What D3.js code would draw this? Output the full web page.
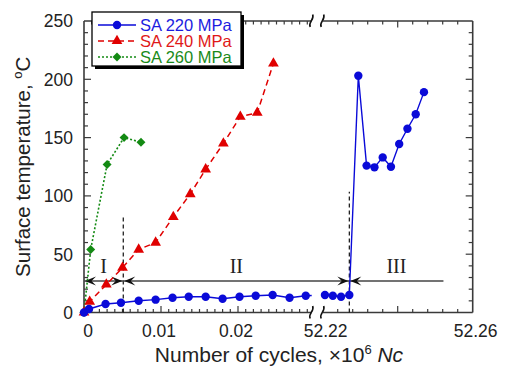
<!DOCTYPE html>
<html>
<head>
<meta charset="utf-8">
<script src="https://cdn.jsdelivr.net/npm/d3@7"></script>
<style>
  body { margin: 0; background: #fff; }
  text { font-family: "Liberation Sans", Arial, Helvetica, sans-serif; }
</style>
</head>
<body>
<svg id="chart" width="506" height="368"></svg>
<script>
// cycles in units of 10^6, temperatures in degC
var sa220Cycles = [0, 0.00065, 0.0028, 0.0048, 0.0071, 0.0093, 0.0115, 0.0136, 0.0158, 0.018, 0.0202, 0.0223, 0.0245, 0.0267, 0.0288,
                   52.2206, 52.2227, 52.2249, 52.2271, 52.2295, 52.2317, 52.2338, 52.236, 52.2382, 52.2404, 52.2426, 52.2448, 52.247]
var sa220Temp = [0, 3, 7.3, 8.4, 10.1, 11, 12.7, 13.5, 13.5, 11.8, 13.5, 14.4, 15, 12.7, 14.4,
                 15, 14.4, 13.5, 15, 203, 126, 124.5, 133, 125, 144.5, 157.6, 170, 189]
var sa240Cycles = [0, 0.00074, 0.0029, 0.005, 0.0071, 0.0093, 0.0116, 0.0138, 0.0158, 0.0181, 0.0203, 0.0225, 0.0246]
var sa240Temp = [0, 9.3, 24, 38.4, 54, 60, 82, 101.6, 122.8, 145, 168, 171.3, 213.6]
var sa260Cycles = [0, 0.00087, 0.003, 0.0052, 0.0074]
var sa260Temp = [0, 54, 127, 150, 146]

var seriesNames = ["SA 220 MPa", "SA 240 MPa", "SA 260 MPa"]
var yTicks = [0, 50, 100, 150, 200, 250]
var xTicksLeft = [0, 0.01, 0.02]
var xTicksRight = [52.22, 52.26]
// stage boundaries (cycles) and names
var stageBounds = [0, 0.0051, 52.2271, 52.2522]
var stageNames = ["I", "II", "III"]
var stageTops = [82, 103.6]   // height of the dashed separators, degC
var stageArrowTemp = 27

var svg = d3.select("#chart")

var pLeft = 84, pRight = 472.7, pTop = 21, pBottom = 312.5
var breakA = 311.7, breakB = 322.7

var y = d3.scaleLinear().domain([0, 250]).range([pBottom, pTop])
var xL = d3.scaleLinear().domain([0, 0.02]).range([pLeft, 238])
var xR = d3.scaleLinear().domain([52.22, 52.26]).range([breakB, pRight])
function xPos(v) { return v < 1 ? xL(v) : xR(v) }

var axisColor = "#3a3a3a"

/* frame with broken top and bottom */
var frame = svg.append("g").attr("stroke", axisColor).attr("stroke-width", 1.6).attr("fill", "none")
frame.append("line").attr("x1", pLeft).attr("x2", pLeft).attr("y1", pTop).attr("y2", pBottom)
frame.append("line").attr("x1", pRight).attr("x2", pRight).attr("y1", pTop).attr("y2", pBottom)
;[pTop, pBottom].forEach(function(yy) {
  frame.append("line").attr("x1", pLeft).attr("x2", breakA).attr("y1", yy).attr("y2", yy)
  frame.append("line").attr("x1", breakB).attr("x2", pRight).attr("y1", yy).attr("y2", yy)
})

/* ticks */
function tickLines(vals, len, side) {
  vals.forEach(function(v) {
    var g = svg.append("g").attr("stroke", axisColor).attr("stroke-width", 1.2)
    if (side == "x") {
      var xx = xPos(v)
      g.append("line").attr("x1", xx).attr("x2", xx).attr("y1", pBottom).attr("y2", pBottom - len)
      g.append("line").attr("x1", xx).attr("x2", xx).attr("y1", pTop).attr("y2", pTop + len)
    } else {
      var yy = y(v)
      g.append("line").attr("x1", pLeft).attr("x2", pLeft + len).attr("y1", yy).attr("y2", yy)
      g.append("line").attr("x1", pRight).attr("x2", pRight - len).attr("y1", yy).attr("y2", yy)
    }
  })
}
var minorLeft = d3.range(1, 30).map(function(i) { return i / 1000 }).filter(function(v) { return v != 0.01 && v != 0.02 })
var minorRight = d3.range(1, 10).map(function(i) { return 52.22 + i * 0.004 }).filter(function(v) { return Math.abs(v - 52.24) > 1e-6 })
tickLines(minorLeft, 3.5, "x")
tickLines([0.01, 0.02, 52.24], 6.5, "x")
tickLines(minorRight, 3.5, "x")
tickLines(d3.range(10, 250, 10).filter(function(v) { return v % 50 != 0 }), 4, "y")
tickLines([50, 100, 150, 200], 7, "y")

/* tick labels */
svg.append("g").selectAll("text").data(yTicks).enter().append("text")
  .attr("x", 73).attr("y", function(d) { return y(d) }).attr("dy", "0.36em")
  .attr("text-anchor", "end").attr("font-size", 17.5).attr("fill", "#222")
  .text(function(d) { return d })
svg.append("g").selectAll("text").data(xTicksLeft.concat(xTicksRight)).enter().append("text")
  .attr("x", function(d) { return xPos(d) + (d < 1 ? (d == 0 ? 4 : -2) : 3) })
  .attr("y", 337).attr("text-anchor", "middle").attr("font-size", 17.5).attr("fill", "#222")
  .text(function(d) { return d })

/* break marks */
;[breakA, breakB].forEach(function(bx) {
  ;[pTop, pBottom].forEach(function(yy) {
    svg.append("path")
      .attr("d", "M" + (bx - 1.5) + "," + (yy + 6) + " C" + (bx - 4) + "," + (yy + 1) + " " + (bx + 3) + "," + (yy - 1) + " " + (bx + 1) + "," + (yy - 6.5))
      .attr("fill", "none").attr("stroke", "#111").attr("stroke-width", 1.6)
  })
})

/* axis titles */
var yt = svg.append("text").attr("transform", "translate(30," + ((pTop + pBottom) / 2) + ") rotate(-90)")
  .attr("text-anchor", "middle").attr("font-size", 20.5).attr("fill", "#222")
yt.append("tspan").text("Surface temperature, ")
yt.append("tspan").attr("font-size", 13).attr("dy", -8).text("o")
yt.append("tspan").attr("dy", 8).text("C")

var xt = svg.append("text").attr("x", 279).attr("y", 362).attr("text-anchor", "middle")
  .attr("font-size", 21).attr("fill", "#222")
xt.append("tspan").text("Number of cycles, \u00d710")
xt.append("tspan").attr("font-size", 13).attr("dy", -8).text("6")
xt.append("tspan").attr("dy", 8).text(" ")
xt.append("tspan").attr("font-style", "italic").text("Nc")

/* stage separators and arrows */
var stageX = stageBounds.map(xPos)
stageX.slice(1, 3).forEach(function(sx, i) {
  svg.append("line").attr("x1", sx).attr("x2", sx).attr("y1", pBottom).attr("y2", y(stageTops[i]))
    .attr("stroke", "#111").attr("stroke-width", 1.2).attr("stroke-dasharray", "4,3")
})
var ay = y(stageArrowTemp)
svg.append("line").attr("x1", stageX[0]).attr("x2", stageX[3]).attr("y1", ay).attr("y2", ay)
  .attr("stroke", "#444").attr("stroke-width", 1.3)
function arrowHead(x, dir) {
  svg.append("path")
    .attr("d", "M" + x + "," + ay + " L" + (x - dir * 11) + "," + (ay - 4.5) + " L" + (x - dir * 6.5) + "," + ay + " L" + (x - dir * 11) + "," + (ay + 4.5) + "Z")
    .attr("fill", "#111")
}
arrowHead(stageX[0] + 1, -1)
arrowHead(stageX[1] - 1, 1)
arrowHead(stageX[1] + 1, -1)
arrowHead(stageX[2] - 1, 1)
arrowHead(stageX[2] + 1, -1)
stageNames.forEach(function(n, i) {
  svg.append("text").attr("x", (stageX[i] + stageX[i + 1]) / 2).attr("y", ay - 8)
    .attr("text-anchor", "middle").attr("font-size", 20).attr("fill", "#222")
    .style("font-family", "'Liberation Serif', 'Times New Roman', serif")
    .text(n)
})

/* data series */
var clip = svg.append("clipPath").attr("id", "gap")
clip.append("rect").attr("x", 0).attr("y", 0).attr("width", breakA).attr("height", 368)
clip.append("rect").attr("x", breakB).attr("y", 0).attr("width", 506 - breakB).attr("height", 368)

var series = [
  { name: seriesNames[0], xs: sa220Cycles, ys: sa220Temp, color: "#0a0ad8", text: "#1c1ce0", dash: null, width: 1.4,
    sym: d3.symbol().type(d3.symbolCircle).size(55), rot: 0 },
  { name: seriesNames[1], xs: sa240Cycles, ys: sa240Temp, color: "#e00000", text: "#e01818", dash: "6,4", width: 1.5,
    sym: d3.symbol().type(d3.symbolTriangle).size(50), rot: 0 },
  { name: seriesNames[2], xs: sa260Cycles, ys: sa260Temp, color: "#138a13", text: "#1a8a1a", dash: "2,2", width: 1.6,
    sym: d3.symbol().type(d3.symbolSquare).size(40), rot: 45 }
]
var line = d3.line().x(function(d) { return xPos(d[0]) }).y(function(d) { return y(d[1]) })

series.slice().reverse().forEach(function(s) {
  var pts = s.xs.map(function(v, i) { return [v, s.ys[i]] })
  svg.append("path").datum(pts).attr("d", line).attr("clip-path", "url(#gap)")
    .attr("fill", "none").attr("stroke", s.color).attr("stroke-width", s.width)
    .attr("stroke-dasharray", s.dash)
  svg.append("g").selectAll("path").data(pts).enter().append("path")
    .attr("d", s.sym)
    .attr("transform", function(d) { return "translate(" + xPos(d[0]) + "," + y(d[1]) + ") rotate(" + s.rot + ")" })
    .attr("fill", s.color)
})

/* legend */
var lg = svg.append("g")
lg.append("rect").attr("x", 95).attr("y", 15).attr("width", 149).attr("height", 54).attr("fill", "#000")
lg.append("rect").attr("x", 92).attr("y", 12).attr("width", 149).attr("height", 54)
  .attr("fill", "#fff").attr("stroke", "#000").attr("stroke-width", 1.3)
series.forEach(function(s, i) {
  var ly = 25 + i * 16
  lg.append("line").attr("x1", 98).attr("x2", 136).attr("y1", ly).attr("y2", ly)
    .attr("stroke", s.color).attr("stroke-width", s.width).attr("stroke-dasharray", s.dash)
  lg.append("path").attr("d", s.sym).attr("transform", "translate(117," + ly + ") rotate(" + s.rot + ")").attr("fill", s.color)
  lg.append("text").attr("x", 140).attr("y", ly).attr("dy", "0.36em").attr("font-size", 16.5)
    .attr("fill", s.text).text(s.name)
})
</script>
</body>
</html>
